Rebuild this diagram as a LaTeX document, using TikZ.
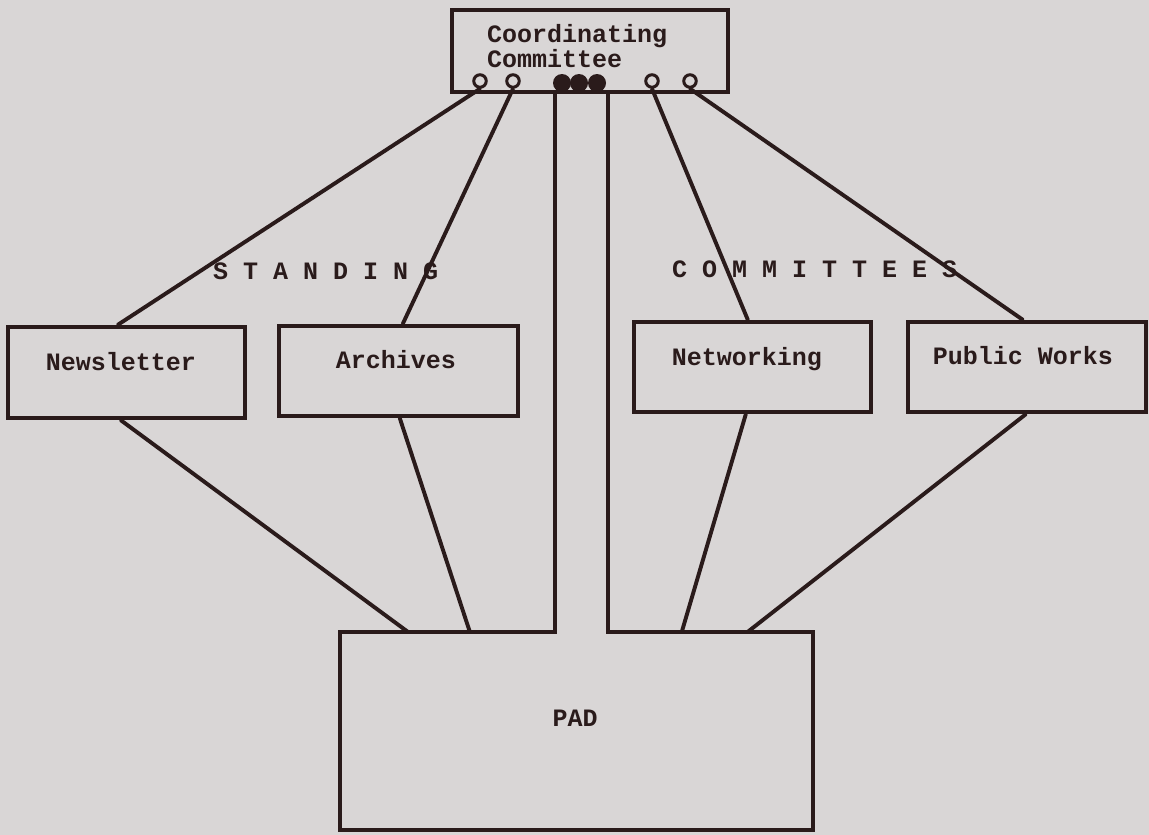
\documentclass[tikz,border=0pt]{standalone}
\usepackage{fontspec}
\newfontfamily\typer{Liberation Mono}
\definecolor{paper}{HTML}{D9D6D6}
\definecolor{ink}{HTML}{2A1B1B}
\begin{document}
\begin{tikzpicture}[x=1pt,y=-1pt,
  box/.style={draw=ink, line width=4.4pt, inner sep=0pt, rectangle},
  link/.style={draw=ink, line width=3.9pt, line cap=round},
  typed/.style={font=\typer\bfseries\fontsize{25}{25}\selectfont, text=ink, inner sep=0pt},
  hole/.style={circle, draw=ink, line width=3pt, minimum size=12.5pt, inner sep=0pt, fill=paper},
  blot/.style={circle, fill=ink, minimum size=18pt, inner sep=0pt}]
\fill[paper] (0,0) rectangle (1149,835);
\useasboundingbox (0,0) rectangle (1149,835);

% boxes
\node[box, minimum width=276pt, minimum height=82pt] (cc) at (590,51) {};
\node[box, minimum width=237pt, minimum height=91pt] (news) at (126.5,372.5) {};
\node[box, minimum width=239pt, minimum height=90pt] (arch) at (398.5,371) {};
\node[box, minimum width=237pt, minimum height=90pt] (net) at (752.5,367) {};
\node[box, minimum width=238pt, minimum height=90pt] (pw) at (1027,367) {};
\node[inner sep=0pt, minimum width=473pt, minimum height=198pt] (pad) at (576.5,731) {};

% channel coordinates
\coordinate (chL) at (555,0);
\coordinate (chR) at (608,0);

% PAD outline with stem up to the Coordinating Committee
\draw[ink, line width=4.2pt, line join=miter]
  (cc.south -| chL) -- (pad.north -| chL) -- (pad.north west) -- (pad.south west)
  -- (pad.south east) -- (pad.north east) -- (pad.north -| chR) -- (cc.south -| chR);

% ports on the Coordinating Committee
\node[hole] (p1) at (480,81) {};
\node[hole] (p2) at (513,81) {};
\node[hole] (p3) at (652,81) {};
\node[hole] (p4) at (690,81) {};
\node[blot] (d1) at (562,83) {};
\node[blot] (d2) at (579,83) {};
\node[blot] (d3) at (597,83) {};

% connectors from the committee
\draw[link] (p1.south) -- ([xshift=112pt]news.north west);
\draw[link] (p2.south) -- ([xshift=126pt]arch.north west);
\draw[link] (p3.south) -- ([xshift=116pt]net.north west);
\draw[link] (p4.south) -- ([xshift=117pt]pw.north west);

% connectors to PAD
\draw[link] ([xshift=115pt]news.south west) -- ([xshift=68pt]pad.north west);
\draw[link] ([xshift=123pt]arch.south west) -- ([xshift=130pt]pad.north west);
\draw[link] ([xshift=114pt]net.south west) -- ([xshift=342pt]pad.north west);
\draw[link] ([xshift=120pt]pw.south west) -- ([xshift=408pt]pad.north west);

% texts
\node[typed, anchor=base west] (cct1) at (487,42) {Coordinating};
\node[typed, anchor=base west] (cct2) at (487,67) {Committee};
\node[typed, anchor=base] (newst) at (121,370) {Newsletter};
\node[typed, anchor=base] (archt) at (396,368) {Archives};
\node[typed, anchor=base] (nett) at (747,365) {Networking};
\node[typed, anchor=base] (pwt) at (1023,364) {Public Works};
\node[typed, anchor=base] (padt) at (575,726) {PAD};
\node[typed, anchor=base west] (st) at (213,279) {S T A N D I N G};
\node[typed, anchor=base west] (ct) at (672,277) {C O M M I T T E E S};
\end{tikzpicture}
\end{document}
